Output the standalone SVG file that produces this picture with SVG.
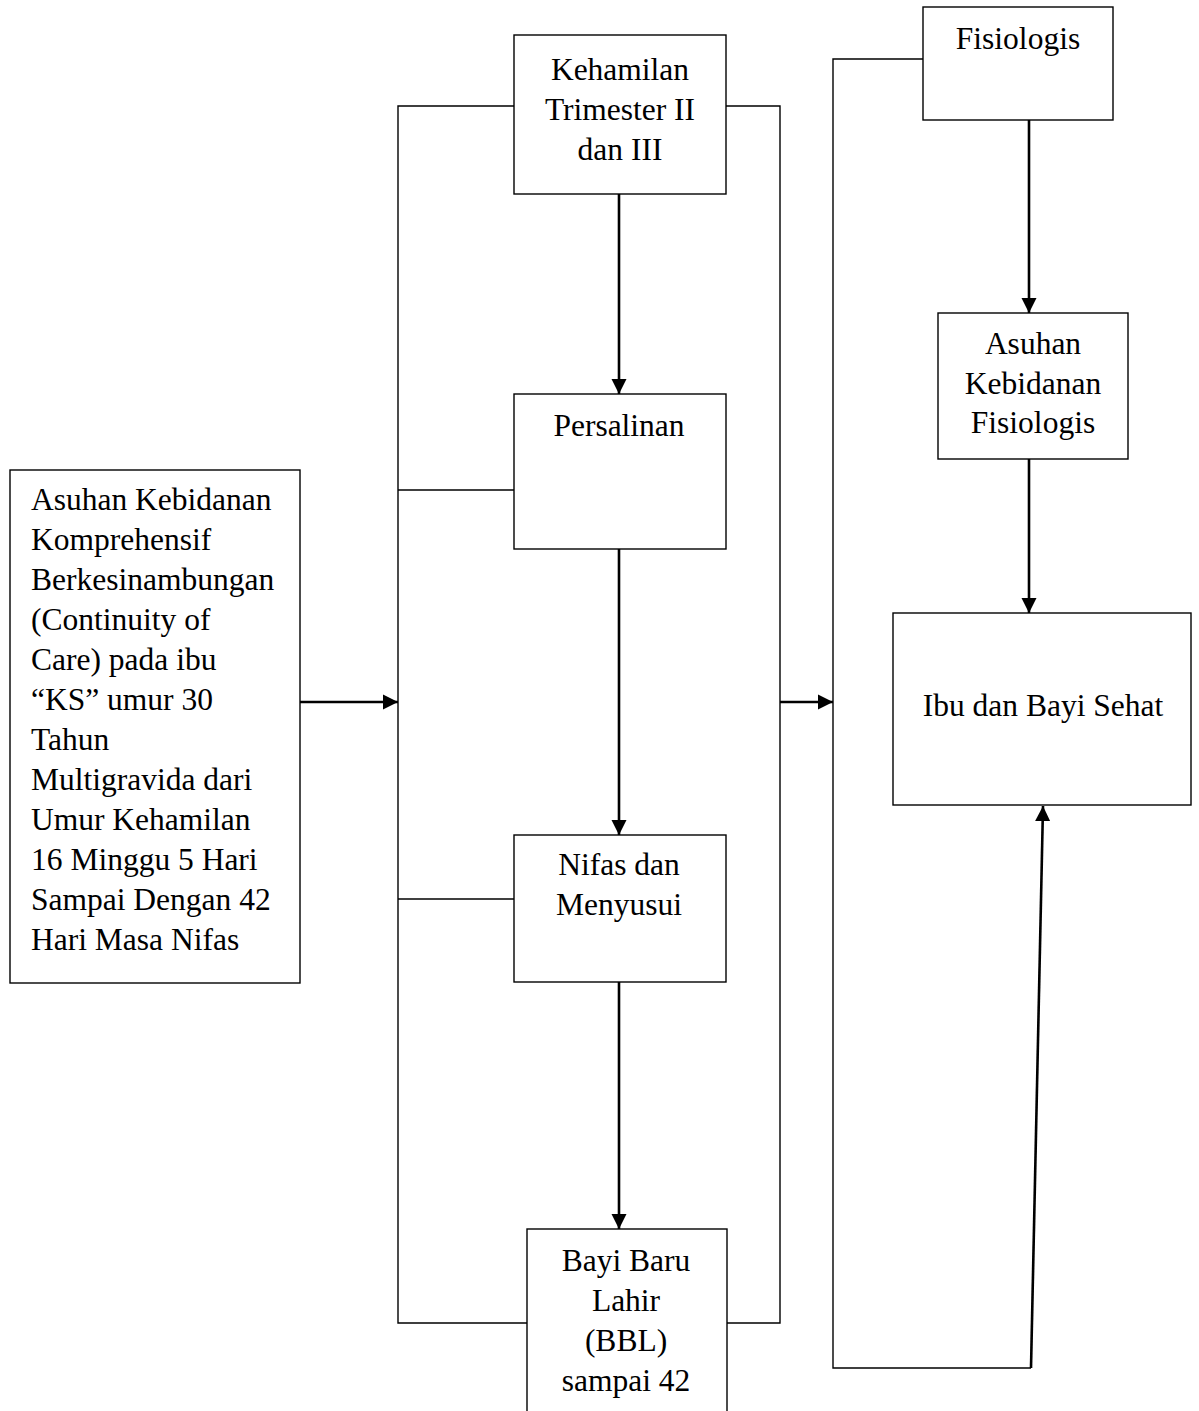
<svg xmlns="http://www.w3.org/2000/svg" width="1199" height="1411" viewBox="0 0 1199 1411">
<style>
.box{fill:#fff;stroke:#000;stroke-width:1.4}
.t{font-family:"Liberation Serif","Times New Roman",serif;font-size:31.5px;fill:#000}
.c{text-anchor:middle}
.ln{fill:none;stroke:#000;stroke-width:1.4}
.ar{fill:none;stroke:#000;stroke-width:2.6;marker-end:url(#ah)}
</style>
<defs>
<marker id="ah" viewBox="0 0 10 10" refX="10" refY="5" markerWidth="5.8" markerHeight="6" markerUnits="strokeWidth" orient="auto">
<path d="M0,0 L10,5 L0,10 z" fill="#000"/>
</marker>
</defs>
<rect width="1199" height="1411" fill="#fff"/>
<g id="connectors">
<polyline class="ln" points="514,106 398,106 398,1323 527,1323"/>
<line class="ln" x1="398" y1="490" x2="514" y2="490"/>
<line class="ln" x1="398" y1="899" x2="514" y2="899"/>
<polyline class="ln" points="726,106 780,106 780,1323 727,1323"/>
<polyline class="ln" points="923,59 833,59 833,1368 1031,1368"/>
<line class="ar" x1="300" y1="702" x2="398" y2="702"/>
<line class="ar" x1="780" y1="702" x2="833" y2="702"/>
<line class="ar" x1="619" y1="194" x2="619" y2="394"/>
<line class="ar" x1="619" y1="549" x2="619" y2="835"/>
<line class="ar" x1="619" y1="982" x2="619" y2="1229"/>
<line class="ar" x1="1029" y1="120" x2="1029" y2="313"/>
<line class="ar" x1="1029" y1="459" x2="1029" y2="613"/>
<line class="ar" x1="1031" y1="1368" x2="1043" y2="806"/>
</g>
<g id="asuhan-komprehensif">
<rect class="box" x="10" y="470" width="290" height="513"/>
<text class="t" x="31" y="510">Asuhan Kebidanan</text>
<text class="t" x="31" y="550">Komprehensif</text>
<text class="t" x="31" y="590">Berkesinambungan</text>
<text class="t" x="31" y="630">(Continuity of</text>
<text class="t" x="31" y="670">Care) pada ibu</text>
<text class="t" x="31" y="710">“KS” umur 30</text>
<text class="t" x="31" y="750">Tahun</text>
<text class="t" x="31" y="790">Multigravida dari</text>
<text class="t" x="31" y="830">Umur Kehamilan</text>
<text class="t" x="31" y="870">16 Minggu 5 Hari</text>
<text class="t" x="31" y="910">Sampai Dengan 42</text>
<text class="t" x="31" y="950">Hari Masa Nifas</text>
</g>
<g id="kehamilan">
<rect class="box" x="514" y="35" width="212" height="159"/>
<text class="t c" x="620" y="80">Kehamilan</text>
<text class="t c" x="620" y="120">Trimester II</text>
<text class="t c" x="620" y="160">dan III</text>
</g>
<g id="persalinan">
<rect class="box" x="514" y="394" width="212" height="155"/>
<text class="t c" x="619" y="436">Persalinan</text>
</g>
<g id="nifas">
<rect class="box" x="514" y="835" width="212" height="147"/>
<text class="t c" x="619" y="875">Nifas dan</text>
<text class="t c" x="619" y="915">Menyusui</text>
</g>
<g id="bbl">
<rect class="box" x="527" y="1229" width="200" height="200"/>
<text class="t c" x="626" y="1271">Bayi Baru</text>
<text class="t c" x="626" y="1311">Lahir</text>
<text class="t c" x="626" y="1351">(BBL)</text>
<text class="t c" x="626" y="1391">sampai 42</text>
</g>
<g id="fisiologis">
<rect class="box" x="923" y="7" width="190" height="113"/>
<text class="t c" x="1018" y="49">Fisiologis</text>
</g>
<g id="asuhan-fisiologis">
<rect class="box" x="938" y="313" width="190" height="146"/>
<text class="t c" x="1033" y="354">Asuhan</text>
<text class="t c" x="1033" y="394">Kebidanan</text>
<text class="t c" x="1033" y="433">Fisiologis</text>
</g>
<g id="ibu-bayi-sehat">
<rect class="box" x="893" y="613" width="298" height="192"/>
<text class="t c" x="1043" y="716">Ibu dan Bayi Sehat</text>
</g>
</svg>
